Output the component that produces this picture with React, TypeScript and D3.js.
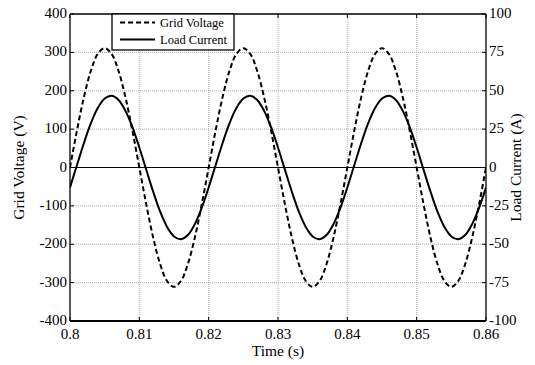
import React from "react";
import * as d3 from "d3";

const timeS = [
  0.8, 0.801, 0.802, 0.803, 0.804, 0.805, 0.806, 0.807, 0.808, 0.809,
  0.81, 0.811, 0.812, 0.813, 0.814, 0.815, 0.816, 0.817, 0.818, 0.819,
  0.82, 0.821, 0.822, 0.823, 0.824, 0.825, 0.826, 0.827, 0.828, 0.829,
  0.83, 0.831, 0.832, 0.833, 0.834, 0.835, 0.836, 0.837, 0.838, 0.839,
  0.84, 0.841, 0.842, 0.843, 0.844, 0.845, 0.846, 0.847, 0.848, 0.849,
  0.85, 0.851, 0.852, 0.853, 0.854, 0.855, 0.856, 0.857, 0.858, 0.859,
  0.86,
];

const gridVoltage = [
  0, 96.1, 182.8, 251.6, 295.8, 311, 295.8, 251.6, 182.8, 96.1,
  0, -96.1, -182.8, -251.6, -295.8, -311, -295.8, -251.6, -182.8, -96.1,
  0, 96.1, 182.8, 251.6, 295.8, 311, 295.8, 251.6, 182.8, 96.1,
  0, -96.1, -182.8, -251.6, -295.8, -311, -295.8, -251.6, -182.8, -96.1,
  0, 96.1, 182.8, 251.6, 295.8, 311, 295.8, 251.6, 182.8, 96.1,
  0, -96.1, -182.8, -251.6, -295.8, -311, -295.8, -251.6, -182.8, -96.1,
  0,
];

const loadCurrent = [
  -13.0, 1.5, 15.8, 28.7, 38.7, 44.9, 46.7, 44.0, 36.9, 26.3,
  13.0, -1.5, -15.8, -28.7, -38.7, -44.9, -46.7, -44.0, -36.9, -26.3,
  -13.0, 1.5, 15.8, 28.7, 38.7, 44.9, 46.7, 44.0, 36.9, 26.3,
  13.0, -1.5, -15.8, -28.7, -38.7, -44.9, -46.7, -44.0, -36.9, -26.3,
  -13.0, 1.5, 15.8, 28.7, 38.7, 44.9, 46.7, 44.0, 36.9, 26.3,
  13.0, -1.5, -15.8, -28.7, -38.7, -44.9, -46.7, -44.0, -36.9, -26.3,
  -13.0,
];

const xTicks = [0.8, 0.81, 0.82, 0.83, 0.84, 0.85, 0.86];
const yLeftTicks = [-400, -300, -200, -100, 0, 100, 200, 300, 400];
const yRightTicks = [-100, -75, -50, -25, 0, 25, 50, 75, 100];
const legendLabels = ["Grid Voltage", "Load Current"];

const W = 535;
const H = 365;
const L = 70;
const R = 486;
const T = 14;
const B = 321;
const FONT = "Liberation Serif, Times New Roman, serif";

export default function App() {
  const x = d3.scaleLinear().domain([0.8, 0.86]).range([L, R]);
  const yL = d3.scaleLinear().domain([-400, 400]).range([B, T]);
  const yR = d3.scaleLinear().domain([-100, 100]).range([B, T]);

  const vLine = d3
    .line<number>()
    .x((_, i) => x(timeS[i]))
    .y((d) => yL(d))
    .curve(d3.curveCatmullRom.alpha(0.5));
  const iLine = d3
    .line<number>()
    .x((_, i) => x(timeS[i]))
    .y((d) => yR(d))
    .curve(d3.curveCatmullRom.alpha(0.5));

  const gridColor = "#9a9a9a";

  return (
    <svg
      width={W}
      height={H}
      style={{ position: "absolute", left: 0, top: 0, display: "block", background: "#fff", fontFamily: FONT }}
    >
      <rect x={0} y={0} width={W} height={H} fill="#fff" />
      <defs>
        <clipPath id="plotclip">
          <rect x={L} y={T} width={R - L} height={B - T} />
        </clipPath>
      </defs>
      {xTicks.slice(1, -1).map((t) => (
        <line
          key={"gx" + t}
          x1={x(t)}
          x2={x(t)}
          y1={T}
          y2={B}
          stroke={gridColor}
          strokeWidth={0.8}
          strokeDasharray="1,1"
        />
      ))}
      {yLeftTicks.slice(1, -1).map((t) =>
        t === 0 ? null : (
          <line
            key={"gy" + t}
            x1={L}
            x2={R}
            y1={yL(t)}
            y2={yL(t)}
            stroke={gridColor}
            strokeWidth={0.8}
            strokeDasharray="1,1"
          />
        )
      )}
      <line x1={L} x2={R} y1={yL(0)} y2={yL(0)} stroke="#000" strokeWidth={1.2} />
      {xTicks.map((t) => (
        <g key={"tx" + t}>
          <line x1={x(t)} x2={x(t)} y1={B} y2={B - 4} stroke="#000" strokeWidth={1} />
          <line x1={x(t)} x2={x(t)} y1={T} y2={T + 4} stroke="#000" strokeWidth={1} />
          <text x={x(t)} y={339} fontSize={15} textAnchor="middle" fill="#000">
            {String(t)}
          </text>
        </g>
      ))}
      {yLeftTicks.map((t) => (
        <g key={"tl" + t}>
          <line x1={L} x2={L + 4} y1={yL(t)} y2={yL(t)} stroke="#000" strokeWidth={1} />
          <text x={L - 3} y={yL(t) + 4} fontSize={15} textAnchor="end" fill="#000">
            {String(t)}
          </text>
        </g>
      ))}
      {yRightTicks.map((t) => (
        <g key={"tr" + t}>
          <line x1={R - 4} x2={R} y1={yR(t)} y2={yR(t)} stroke="#000" strokeWidth={1} />
          <text x={R + 3} y={yR(t) + 4} fontSize={15} textAnchor="start" fill="#000">
            {String(t)}
          </text>
        </g>
      ))}
      <g clipPath="url(#plotclip)">
        <path
          d={vLine(gridVoltage) || ""}
          fill="none"
          stroke="#000"
          strokeWidth={2}
          strokeDasharray="5,3"
        />
        <path d={iLine(loadCurrent) || ""} fill="none" stroke="#000" strokeWidth={2} />
      </g>
      <line x1={L} x2={R} y1={T} y2={T} stroke="#000" strokeWidth={1.3} />
      <line x1={L} x2={L} y1={T} y2={B} stroke="#000" strokeWidth={1.3} />
      <line x1={R} x2={R} y1={T} y2={B} stroke="#000" strokeWidth={1.3} />
      <line x1={L} x2={R} y1={B} y2={B} stroke="#000" strokeWidth={2} />
      <rect x={112} y={T} width={122} height={36} fill="#fff" stroke="#000" strokeWidth={1.3} />
      <line x1={120} x2={155} y1={22.5} y2={22.5} stroke="#000" strokeWidth={1.8} strokeDasharray="5,3" />
      <line x1={120} x2={155} y1={39.5} y2={39.5} stroke="#000" strokeWidth={1.8} />
      <text x={160} y={27} fontSize={12.5} fill="#000">
        {legendLabels[0]}
      </text>
      <text x={160} y={44} fontSize={12.5} fill="#000">
        {legendLabels[1]}
      </text>
      <text x={(L + R) / 2} y={356} fontSize={15.5} textAnchor="middle" fill="#000">
        Time (s)
      </text>
      <text
        transform={`translate(24, ${(T + B) / 2}) rotate(-90)`}
        fontSize={15.5}
        textAnchor="middle"
        fill="#000"
      >
        Grid Voltage (V)
      </text>
      <text
        transform={`translate(521, ${(T + B) / 2}) rotate(-90)`}
        fontSize={15.5}
        textAnchor="middle"
        fill="#000"
      >
        Load Current (A)
      </text>
    </svg>
  );
}
